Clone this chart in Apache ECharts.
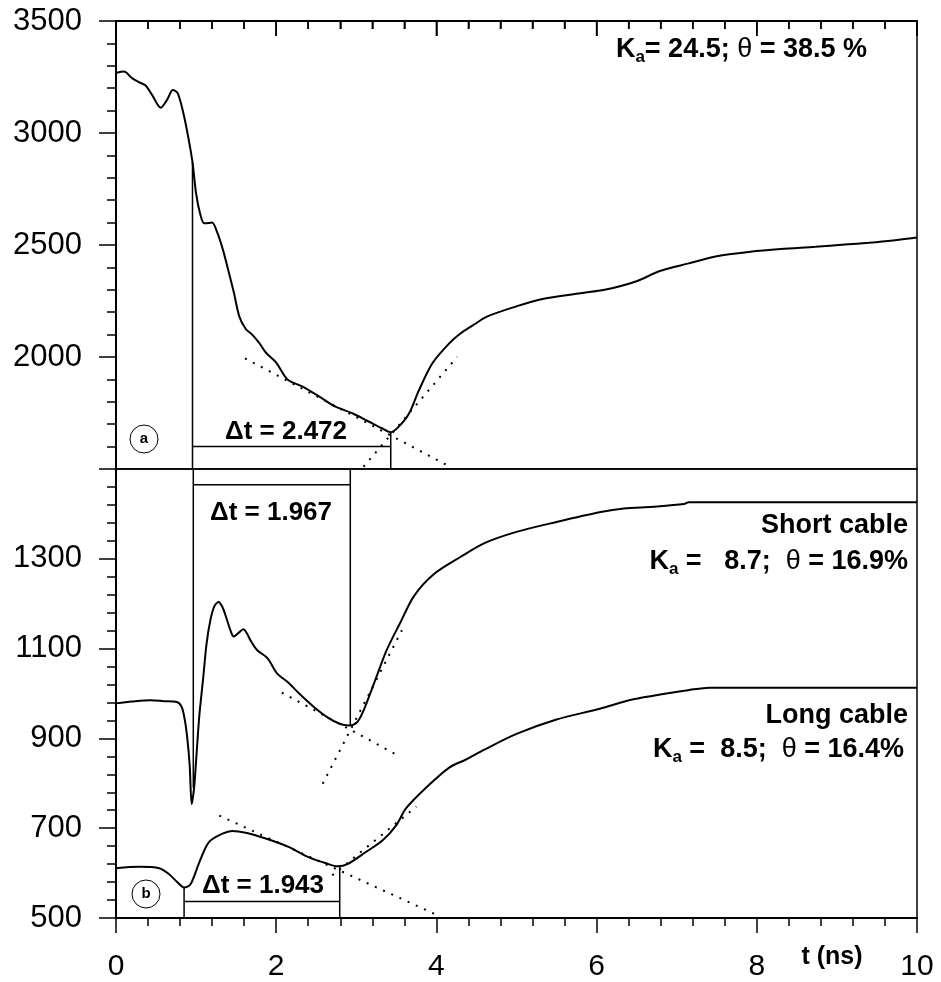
<!DOCTYPE html>
<html>
<head>
<meta charset="utf-8">
<title>TDR waveforms</title>
<script src="https://cdn.jsdelivr.net/npm/echarts@6/dist/echarts.min.js"></script>
<style>
  html, body { margin: 0; padding: 0; background: #fff; }
  #chart { width: 941px; height: 982px; }
</style>
</head>
<body>
<div id="chart"></div>
<script>
const FONT = "'Liberation Sans', Arial, sans-serif";

// panel (a)
const tA = [0, 0.1, 0.2, 0.3, 0.37, 0.45, 0.56, 0.64, 0.71, 0.77, 0.84, 0.9, 0.955, 1.0, 1.05, 1.1, 1.16, 1.2, 1.26, 1.33,
  1.4, 1.47, 1.54, 1.62, 1.7, 1.79, 1.87, 2.0, 2.14, 2.33, 2.54, 2.74, 2.95, 3.16, 3.32, 3.43, 3.53, 3.66, 3.78, 3.95,
  4.16, 4.3, 4.45, 4.63, 4.99, 5.31, 5.8, 6.1, 6.48, 6.8, 7.15, 7.5, 7.92, 8.3, 8.73, 9.1, 9.4, 9.7, 10];
const vA = [3268, 3274, 3245, 3225, 3212, 3170, 3113, 3150, 3192, 3178, 3090, 2985, 2870, 2730, 2640, 2597, 2598, 2600, 2560, 2485,
  2390, 2290, 2180, 2125, 2100, 2062, 2020, 1975, 1900, 1868, 1823, 1778, 1749, 1711, 1682, 1664, 1689, 1749, 1850, 1972,
  2061, 2105, 2140, 2180, 2225, 2258, 2285, 2300, 2336, 2385, 2418, 2450, 2470, 2482, 2492, 2502, 2510, 2520, 2533];

// panel (b): short cable
const tS = [0, 0.2, 0.43, 0.6, 0.76, 0.82, 0.86, 0.89, 0.92, 0.945, 0.975, 1.0, 1.04, 1.09, 1.13, 1.18, 1.23, 1.28, 1.33, 1.38,
  1.43, 1.47, 1.53, 1.59, 1.64, 1.68, 1.76, 1.89, 2.01, 2.14, 2.31, 2.47, 2.64, 2.8, 2.91, 3.01, 3.09, 3.22, 3.38, 3.55,
  3.72, 3.97, 4.3, 4.6, 5.0, 5.5, 6.05, 6.34, 6.7, 7.09, 7.15, 10];
const vS = [978, 982, 985, 983, 981, 970, 940, 900, 840, 754, 790, 850, 950, 1037, 1110, 1165, 1195, 1204, 1192, 1167,
  1140, 1127, 1135, 1143, 1132, 1118, 1097, 1079, 1045, 1026, 996, 970, 947, 932, 929, 936, 962, 1022, 1097, 1158,
  1217, 1266, 1304, 1335, 1360, 1382, 1404, 1412, 1416, 1422, 1426, 1426];

// panel (b): long cable
const tL = [0, 0.29, 0.54, 0.66, 0.77, 0.85, 0.93, 1.04, 1.16, 1.33, 1.45, 1.62, 1.87, 2.16, 2.41, 2.62, 2.77, 2.89, 3.12, 3.33,
  3.5, 3.62, 3.87, 4.16, 4.37, 4.6, 5.0, 5.5, 6.04, 6.46, 6.87, 7.16, 7.41, 10];
const vL = [611, 614, 611, 598, 579, 568, 575, 624, 669, 688, 694, 690, 677, 658, 635, 622, 615, 620, 647, 673,
  707, 744, 790, 835, 853, 875, 910, 942, 966, 987, 1000, 1008, 1013, 1013];

// tangent lines (dotted)
const tangentA = [[[1.61, 1994], [4.17, 1510]], [[3.09, 1510], [4.26, 2001]]];
const tangentS = [[[2.07, 1002], [3.53, 861]], [[2.58, 799], [3.57, 1141]]];
const tangentL = [[[1.29, 728], [4.04, 504]], [[2.70, 595], [3.75, 748]]];

// travel-time markers (solid)
const markA = [[[0.955, 2870], [0.955, 1500]], [[3.43, 1664], [3.43, 1500]], [[0.955, 1600], [3.43, 1600]]];
const markS = [[[0.965, 1500], [0.965, 790]], [[2.925, 1500], [2.925, 929]], [[0.965, 1465], [2.925, 1465]]];
const markL = [[[0.85, 568], [0.85, 500]], [[2.793, 615], [2.793, 500]], [[0.85, 537], [2.793, 537]]];

// ticks along the upper frame of panel (a)
const topTicks = [0, 0.4, 0.8, 1.2, 1.6, 2, 2.4, 2.8, 3.2, 3.6, 4, 4.4, 4.8, 5.2, 5.6, 6,
  6.4, 6.8, 7.2, 7.6, 8, 8.4, 8.8, 9.2, 9.6, 10];

// lower panel is drawn on an offset axis so ticks start at 500
const BASE_B = 500;

const zip = (ts, vs) => ts.map((t, i) => [t, vs[i]]);
const shiftB = (pts) => pts.map(p => [p[0], p[1] - BASE_B]);

const curve = (data, idx) => ({
  type: 'line', xAxisIndex: idx, yAxisIndex: idx, data: data,
  smooth: 0.3, showSymbol: false, silent: true,
  lineStyle: { color: '#000', width: 2 }
});
const segment = (data, idx, dotted) => ({
  type: 'line', xAxisIndex: idx, yAxisIndex: idx, data: data,
  showSymbol: false, silent: true,
  lineStyle: dotted
    ? { color: '#000', width: 2, type: [2, 7] }
    : { color: '#000', width: 1.5 }
});

const series = [
  curve(zip(tA, vA), 0),
  curve(shiftB(zip(tS, vS)), 1),
  curve(shiftB(zip(tL, vL)), 1),
  {
    type: 'custom', xAxisIndex: 0, yAxisIndex: 0, silent: true, clip: false, z: 50, zlevel: 1,
    data: topTicks.map(t => [t, 3500]),
    renderItem: (params, api) => {
      const t = api.value(0);
      const p = api.coord([t, api.value(1)]);
      const len = Number.isInteger(t / 2) ? 15 : 8;
      return {
        type: 'line',
        shape: { x1: p[0], y1: p[1], x2: p[0], y2: p[1] + len },
        style: { stroke: '#000', lineWidth: 1.5 }
      };
    }
  }
];
tangentA.forEach(s => series.push(segment(s, 0, true)));
markA.forEach(s => series.push(segment(s, 0, false)));
tangentS.concat(tangentL).forEach(s => series.push(segment(shiftB(s), 1, true)));
markS.concat(markL).forEach(s => series.push(segment(shiftB(s), 1, false)));

const black = { color: '#000', width: 2 };
const tickStyle = { color: '#000', width: 1.5 };

const xTop = {
  gridIndex: 0, type: 'value', min: 0, max: 10, interval: 2, position: 'top', zlevel: 1,
  axisLine: { show: true, onZero: false, lineStyle: black },
  axisTick: { show: true, inside: true, length: 15, lineStyle: tickStyle },
  minorTick: { show: true, splitNumber: 5, length: 8, lineStyle: tickStyle },
  axisLabel: { show: true, margin: 34, fontSize: 30, fontFamily: FONT, formatter: () => '' },
  splitLine: { show: false }
};
const xBottom = {
  gridIndex: 1, type: 'value', min: 0, max: 10, interval: 2, position: 'bottom',
  axisLine: { show: true, onZero: false, lineStyle: black },
  axisTick: { show: true, length: 15, lineStyle: tickStyle },
  minorTick: { show: true, splitNumber: 5, length: 8, lineStyle: tickStyle },
  splitLine: { show: false },
  axisLabel: {
    margin: 34, fontSize: 30, fontFamily: FONT, color: '#000',
    formatter: (v) => String(v)
  }
};
const yAxisBase = (idx) => ({
  gridIndex: idx, type: 'value',
  axisLine: { show: true, onZero: false, lineStyle: black },
  axisTick: { show: true, length: 17, lineStyle: tickStyle },
  minorTick: { show: true, splitNumber: 5, length: 9, lineStyle: tickStyle },
  splitLine: { show: false },
  axisLabel: { margin: 34, fontSize: 31, fontFamily: FONT, color: '#000' }
});

const yTop = yAxisBase(0);
yTop.min = 1500; yTop.max = 3500; yTop.interval = 500;
yTop.axisLabel.formatter = (v) => (v === 1500 ? '' : String(v));
const yBottom = yAxisBase(1);
yBottom.min = 0; yBottom.max = 1000; yBottom.interval = 200;
yBottom.axisLabel.formatter = (v) => (v === 1000 ? '' : String(v + BASE_B));

const RICH = {
  m: { fontSize: 27, fontWeight: 'bold', fontFamily: FONT, fill: '#000', lineHeight: 30, verticalAlign: 'top' },
  g: { fontSize: 27, fontWeight: 'normal', fontFamily: FONT, fill: '#000', lineHeight: 30, verticalAlign: 'top' },
  s: { fontSize: 17, fontWeight: 'bold', fontFamily: FONT, fill: '#000', lineHeight: 14, verticalAlign: 'bottom' }
};
const label = (x, y, text, align) => ({
  type: 'text', x: x, y: y, silent: true,
  style: { text: text, rich: RICH, textAlign: align || 'right', textVerticalAlign: 'middle' }
});
const plain = (x, y, text, font) => ({
  type: 'text', x: x, y: y, silent: true,
  style: { text: text, font: font, fill: '#000', textAlign: 'center', textVerticalAlign: 'middle' }
});
const ring = (cx, cy, letter) => [
  { type: 'circle', silent: true, shape: { cx: cx, cy: cy, r: 14 }, style: { fill: 'none', stroke: '#000', lineWidth: 1 } },
  plain(cx, cy, letter, 'bold 15px ' + FONT)
];

const graphic = [
  label(867, 51, '{m|K}{s|a}{m|= 24.5; }{g|θ}{m| = 38.5 %}'),
  label(908, 527, '{m|Short cable}'),
  label(908, 563, '{m|K}{s|a}{m| =   8.7;  }{g|θ}{m| = 16.9%}'),
  label(908, 717, '{m|Long cable}'),
  label(904, 751, '{m|K}{s|a}{m| =  8.5;  }{g|θ}{m| = 16.4%}'),
  plain(286, 432, 'Δt = 2.472', 'bold 26px ' + FONT),
  plain(271, 513, 'Δt = 1.967', 'bold 26px ' + FONT),
  plain(263, 886, 'Δt = 1.943', 'bold 26px ' + FONT),
  plain(832, 957, 't (ns)', 'bold 25px ' + FONT)
].concat(ring(144, 439, 'a'), ring(146, 894, 'b'));

const gridBase = {
  left: 116, right: 24, show: true, borderColor: '#000', borderWidth: 1.5,
  backgroundColor: 'transparent', containLabel: false, outerBoundsMode: 'none'
};

const option = {
  animation: false,
  backgroundColor: '#fff',
  grid: [
    Object.assign({ top: 21, height: 448 }, gridBase),
    Object.assign({ top: 469, height: 449 }, gridBase)
  ],
  xAxis: [xTop, xBottom],
  yAxis: [yTop, yBottom],
  series: series,
  graphic: graphic
};

const chart = echarts.init(document.getElementById('chart'), null, { renderer: 'canvas' });
chart.setOption(option);
</script>
</body>
</html>
